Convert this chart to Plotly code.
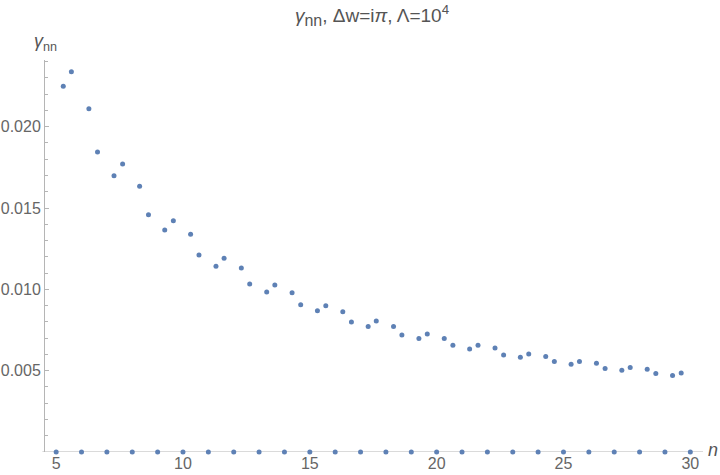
import plotly.graph_objects as go

# integer n values (gamma = 0)
n_int = list(range(5, 31))
gamma_zero = [0.0] * len(n_int)

# non-zero points
n_pts = [5.28, 5.60, 6.29, 6.63, 7.28, 7.62, 8.29, 8.64, 9.28, 9.62,
         10.30, 10.63, 11.30, 11.62, 12.30, 12.63, 13.30, 13.62, 14.30, 14.64,
         15.30, 15.63, 16.30, 16.64, 17.30, 17.62, 18.30, 18.63, 19.30, 19.63,
         20.30, 20.64, 21.30, 21.63, 22.30, 22.64, 23.30, 23.63, 24.30, 24.64,
         25.30, 25.63, 26.30, 26.64, 27.30, 27.63, 28.30, 28.64, 29.30, 29.64]
gamma_pts = [0.02248, 0.02338, 0.02110, 0.01845, 0.01698, 0.01771, 0.01634, 0.01459, 0.01365, 0.01422,
             0.01339, 0.01211, 0.01142, 0.01191, 0.01131, 0.01033, 0.00983, 0.01026, 0.00979, 0.00905,
             0.00868, 0.00899, 0.00862, 0.00799, 0.00772, 0.00805, 0.00772, 0.00720, 0.00698, 0.00725,
             0.00698, 0.00657, 0.00634, 0.00657, 0.00640, 0.00597, 0.00583, 0.00603, 0.00587, 0.00557,
             0.00540, 0.00557, 0.00546, 0.00513, 0.00503, 0.00520, 0.00509, 0.00483, 0.00470, 0.00486]

y_ticks = [0.005, 0.010, 0.015, 0.020]
y_tick_labels = ["0.005", "0.010", "0.015", "0.020"]
y_minor_ticks = [0.001, 0.002, 0.003, 0.004, 0.006, 0.007, 0.008, 0.009, 0.011, 0.012,
                 0.013, 0.014, 0.016, 0.017, 0.018, 0.019, 0.021, 0.022, 0.023, 0.024]
x_ticks = [5, 10, 15, 20, 25, 30]

marker_color = "#5E81B5"
axis_color = "#b5b5b5"
text_color = "#666666"

W, H = 720, 475
L, R, T, B = 45.3, 17.3, 60, 23.3
PW, PH = W - L - R, H - T - B

fig = go.Figure()
fig.add_trace(go.Scatter(x=n_int, y=gamma_zero, mode="markers",
                         marker=dict(color=marker_color, size=5), cliponaxis=False,
                         hoverinfo="skip"))
fig.add_trace(go.Scatter(x=n_pts, y=gamma_pts, mode="markers",
                         marker=dict(color=marker_color, size=5), cliponaxis=False,
                         hoverinfo="skip"))

fig.update_layout(
    width=W, height=H,
    margin=dict(l=L, r=R, t=T, b=B, pad=0, autoexpand=False),
    paper_bgcolor="white", plot_bgcolor="white",
    showlegend=False,
    font=dict(family="Liberation Sans, Arial, sans-serif", size=16, color=text_color),
    title=dict(text="<i>γ</i><sub><span style='font-size:16px'>nn</span></sub>, Δw=i<i>π</i>, Λ=10<sup>4</sup>",
               x=372 / W, xanchor="center", y=1 - 15 / H, yanchor="middle",
               font=dict(size=19, color="#555555")),
    xaxis=dict(range=[4.56, 30.5], showgrid=False, zeroline=False, automargin=False,
               showline=False, tickvals=x_ticks, ticks="", ticklen=0,
               tickfont=dict(size=16, color=text_color)),
    yaxis=dict(range=[0, 0.0241], showgrid=False, zeroline=False, automargin=False,
               showline=True, linecolor=axis_color, linewidth=1,
               tickvals=y_ticks, ticktext=y_tick_labels, ticks="inside",
               ticklen=4, tickcolor=axis_color, tickwidth=1,
               minor=dict(tickvals=y_minor_ticks, ticks="inside",
                          ticklen=2.5, tickcolor=axis_color, tickwidth=1),
               tickfont=dict(size=16, color=text_color)),
)

# x-axis line (extends slightly left of the y-axis, like Mathematica)
fig.add_shape(type="line", xref="paper", yref="y", x0=-2.6 / PW, x1=1,
              y0=0, y1=0, line=dict(color=axis_color, width=1), layer="between")

fig.add_annotation(text="<i>γ</i><sub>nn</sub>", xref="paper", yref="paper",
                   x=0, y=1 + 17 / PH, xanchor="center", yanchor="middle",
                   showarrow=False, font=dict(size=18, color="#555555"))
fig.add_annotation(text="<i>n</i>", xref="paper", yref="paper",
                   x=1 + 3 / PW, y=2 / PH, xanchor="left", yanchor="middle",
                   showarrow=False, font=dict(size=18, color="#555555"))

fig.write_html("out.html", config={"displayModeBar": False},
               post_script="document.body.style.margin='0';")
